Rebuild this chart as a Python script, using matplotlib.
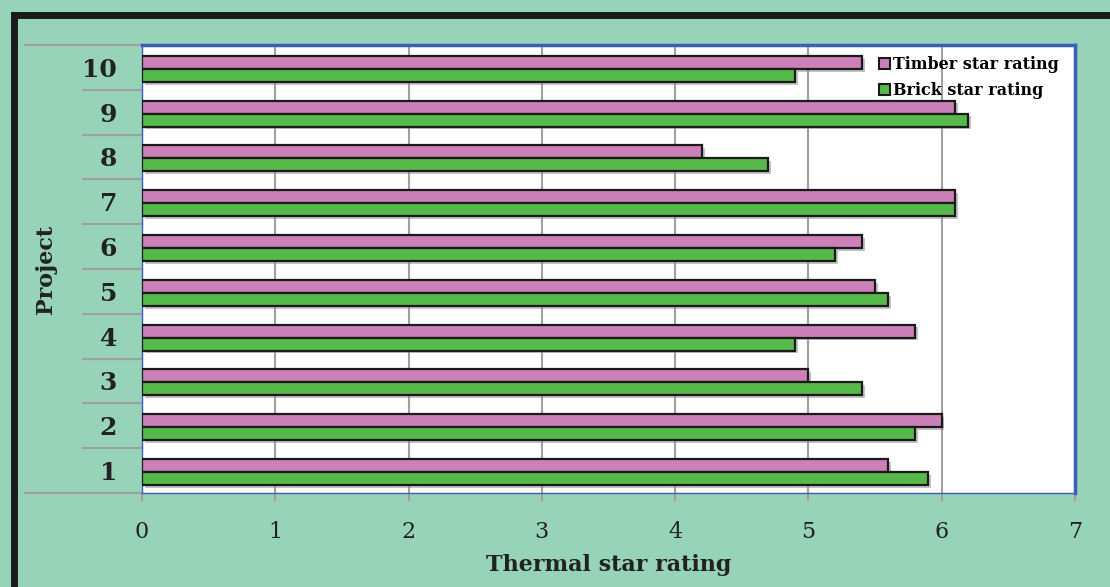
import numpy as np
import matplotlib
matplotlib.use("Agg")
import matplotlib.pyplot as plt
import matplotlib.patheffects as pe
from matplotlib.patches import Rectangle, Patch

projects = ["1", "2", "3", "4", "5", "6", "7", "8", "9", "10"]
timber = [5.6, 6.0, 5.0, 5.8, 5.5, 5.4, 6.1, 4.2, 6.1, 5.4]
brick = [5.9, 5.8, 5.4, 4.9, 5.6, 5.2, 6.1, 4.7, 6.2, 4.9]
xticks = [0, 1, 2, 3, 4, 5, 6, 7]

bg = "#96d3b9"
pink = "#cc80b8"
green = "#56b94a"
frame_blue = "#3a5fb5"
serif = ["DejaVu Serif"]

plt.rcParams["font.family"] = serif

fig = plt.figure(figsize=(11.10, 5.87), dpi=100)
fig.patch.set_facecolor(bg)

# thick black outer frame, runs off the right and bottom edges
fig.patches.append(Rectangle((13.5 / 1110, -0.2), 1.2, 1 - 15.5 / 587 + 0.2,
                             transform=fig.transFigure, fill=False,
                             edgecolor="#1a1a1a", lw=5.0, zorder=0))

ax = fig.add_axes([142 / 1110, 1 - 493 / 587, 933 / 1110, 448 / 587])
ax.set_facecolor("white")

y = np.arange(len(projects))
h = 0.29
off = -0.03
shadow = [pe.SimplePatchShadow(offset=(2, -2), shadow_rgbFace="#888888", alpha=0.5), pe.Normal()]
b1 = ax.barh(y + off + h / 2, timber, height=h, color=pink, edgecolor="#1a1a1a",
             lw=1.6, zorder=3, label="Timber star rating")
b2 = ax.barh(y + off - h / 2, brick, height=h, color=green, edgecolor="#1a1a1a",
             lw=1.6, zorder=3, label="Brick star rating")
for b in list(b1) + list(b2):
    b.set_path_effects(shadow)

ax.set_xlim(0, 7)
ax.set_ylim(-0.5, len(projects) - 0.5)
ax.set_xticks(xticks)
ax.set_xticklabels([str(t) for t in xticks], fontsize=16)
ax.set_yticks(y)
ax.set_yticklabels(projects, fontsize=18, fontweight="bold")
ax.tick_params(axis="y", length=0, pad=18, labelcolor="#222222")
ax.tick_params(axis="x", length=6, width=1.5, color="#a0a0a0", pad=14, labelcolor="#222222")
ax.grid(axis="x", color="#a0a0a0", lw=1.5, zorder=1)
ax.set_axisbelow(True)

for side in ["top", "right"]:
    ax.spines[side].set_color(frame_blue)
    ax.spines[side].set_linewidth(2.5)
for side in ["left", "bottom"]:
    ax.spines[side].set_color(frame_blue)
    ax.spines[side].set_linewidth(1.0)

# category separators to the left of the plot
trans = ax.get_yaxis_transform()
for k in range(len(projects) + 1):
    yy = k - 0.5
    x0 = -0.1254 if k in (0, len(projects)) else -0.0632
    ax.plot([x0, 0], [yy, yy], transform=trans, color="#a0a0a0", lw=1.5,
            clip_on=False, zorder=0)

ax.set_xlabel("Thermal star rating", fontsize=16, fontweight="bold", color="#222222")
ax.xaxis.set_label_coords(0.5, -0.137)
ax.set_ylabel("Project", fontsize=16, fontweight="bold", color="#222222")
ax.yaxis.set_label_coords(-0.091, 0.5)

handles = [Patch(facecolor=pink, edgecolor="#1a1a1a", lw=1.5, label="Timber star rating"),
           Patch(facecolor=green, edgecolor="#1a1a1a", lw=1.5, label="Brick star rating")]
ax.legend(handles=handles, loc="upper right", bbox_to_anchor=(0.995, 1.0), frameon=False,
          prop={"family": serif, "weight": "bold", "size": 11.5}, handlelength=0.7,
          handleheight=0.7, handletextpad=0.2, labelspacing=0.55, borderaxespad=0.3)

fig.savefig("out.png", dpi=100, facecolor=bg)
